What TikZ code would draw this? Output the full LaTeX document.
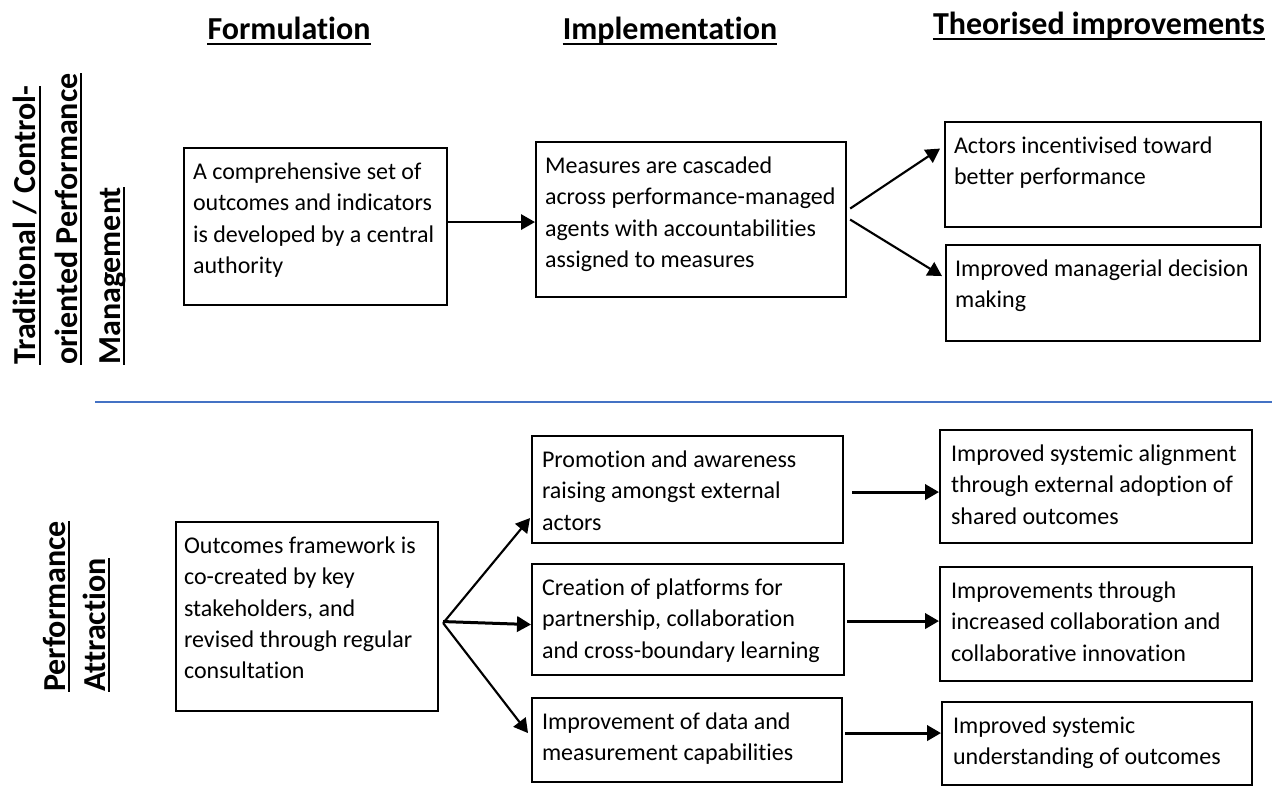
\documentclass[tikz,border=0pt]{standalone}
\usepackage{fontspec}
\setmainfont[Ligatures={NoCommon}]{Carlito}
\usetikzlibrary{arrows.meta}
\newdimen\pxu \pxu=0.75pt
\newcommand{\bx}[4][9]{\parbox[c][#3\pxu][t]{#2\pxu}{\fontsize{18}{23.6}\selectfont\raggedright\parindent=0pt\leftskip=#1\pxu\relax\vspace*{6.75pt}\strut #4}}
\definecolor{sepblue}{RGB}{68,114,196}
\tikzset{
 box/.style={draw, line width=1.6pt, inner sep=0pt, anchor=north west},
 arr/.style={line width=1.6pt, -{Triangle[length=10.5pt,width=11.5pt]}},
 arrthick/.style={line width=2.25pt, -{Triangle[length=10.5pt,width=11.5pt]}},
 hdr/.style={inner sep=0pt, anchor=base, font=\fontsize{24}{29}\selectfont\bfseries},
 side/.style={inner sep=0pt, rotate=90, anchor=base west, font=\fontsize{24}{29}\selectfont\bfseries},
 ul/.style={line width=1.5pt},
 sepline/.style={draw=sepblue, line width=0.9pt},
}
\begin{document}
\begin{tikzpicture}[x=0.75pt,y=-0.75pt]
\useasboundingbox (0,0) rectangle (1272,787);

% column headers
\node[hdr] (hf) at (289,40) {Formulation};
\node[hdr] (hi) at (670,40) {Implementation};
\node[hdr] (ht) at (1099,35) {Theorised improvements};
\foreach \h in {hf,hi,ht}
  \draw[ul] ([shift={(0,4)}]\h.base west) -- ([shift={(0,4)}]\h.base east);

% row labels
\node[side] (s1) at (36,365) {Traditional / Control-};
\node[side] (s2) at (77,365) {oriented Performance};
\node[side] (s3) at (120,365) {Management};
\node[side] (s4) at (65,692) {Performance};
\node[side] (s5) at (105,692) {Attraction};
\foreach \s in {s1,s2,s3,s4,s5}
  \draw[ul] ([shift={(4,0)}]\s.base west) -- ([shift={(4,0)}]\s.base east);

% separator
\coordinate (sepL) at (95,402);
\coordinate (sepR) at (1272,402);
\draw[sepline] (sepL) -- (sepR);

% top row
\node[box] (f1) at (183,147) {\bx{263}{157}{A comprehensive set of\\outcomes and indicators\\is developed by a central\\authority}};
\node[box] (i1) at (535,141) {\bx{310}{155}{Measures are cascaded\\across performance-managed\\agents with accountabilities\\assigned to measures}};
\node[box] (t1) at (944,121) {\bx{316}{105}{Actors incentivised toward\\better performance}};
\node[box] (t2) at (945,244) {\bx{314}{96}{Improved managerial decision\\making}};

% bottom row
\node[box] (f2) at (175,521) {\bx[8]{262}{189}{Outcomes framework is\\co-created by key\\stakeholders, and\\revised through regular\\consultation}};
\node[box] (i2a) at (531,435) {\bx[10]{311}{107}{Promotion and awareness\\raising amongst external\\actors}};
\node[box] (i2b) at (531,563) {\bx[10]{312}{111}{Creation of platforms for\\partnership, collaboration\\and cross-boundary learning}};
\node[box] (i2c) at (531,697) {\bx[10]{310}{84}{Improvement of data and\\measurement capabilities}};
\node[box] (t3) at (939,429) {\bx[11]{312}{113}{Improved systemic alignment\\through external adoption of\\shared outcomes}};
\node[box] (t4) at (939,566) {\bx[11]{312}{114}{Improvements through\\increased collaboration and\\collaborative innovation}};
\node[box] (t5) at (941,701) {\bx[11]{310}{83}{Improved systemic\\understanding of outcomes}};

% top connectors
\draw[arr] ([shift={(0,-4.5)}]f1.east) -- ([shift={(0,2.5)}]i1.west);
\draw[arr] ([shift={(3,-11)}]i1.east) -- ([shift={(-4,-26)}]t1.west);
\draw[arr] ([shift={(3,0)}]i1.east) -- ([shift={(-3,-17)}]t2.west);

% bottom connectors
\draw[arr] ([shift={(4,6.5)}]f2.east) -- ([shift={(-1,28.5)}]i2a.west);
\draw[arrthick] ([shift={(4,5)}]f2.east) -- ([shift={(0,5)}]i2b.west);
\draw[arr] ([shift={(4,6.5)}]f2.east) -- ([shift={(-3,-7)}]i2c.west);
\draw[arrthick] ([shift={(8,2.5)}]i2a.east) -- ([shift={(0,5.5)}]t3.west);
\draw[arrthick] ([shift={(2,1.5)}]i2b.east) -- ([shift={(0,-3)}]t4.west);
\draw[arrthick] ([shift={(2,-7)}]i2c.east) -- ([shift={(0,-10.5)}]t5.west);
\end{tikzpicture}
\end{document}
